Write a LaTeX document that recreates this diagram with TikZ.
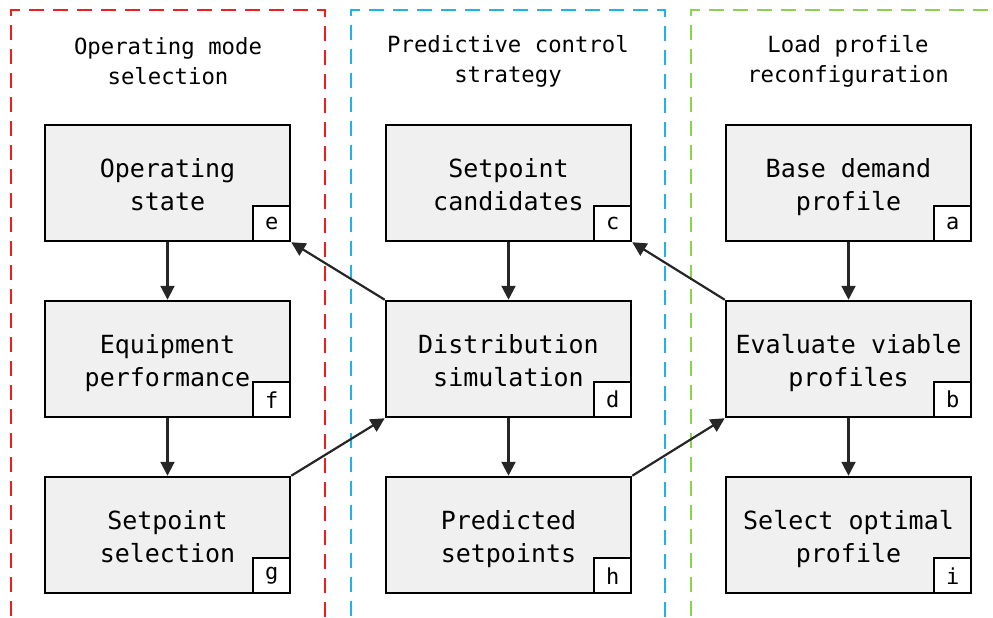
\documentclass[tikz,border=0pt]{standalone}
\usepackage{fontspec}
\setmonofont{DejaVu Sans Mono}
\usetikzlibrary{arrows.meta}
\definecolor{boxfill}{HTML}{F0F0F0}
\definecolor{arrowgray}{HTML}{262626}
\definecolor{laneRed}{HTML}{F01E1E}
\definecolor{laneBlue}{HTML}{1EB4EA}
\definecolor{laneGreen}{HTML}{8CD24B}
\tikzset{
  lane/.style={line width=2pt, dash pattern=on 15pt off 9pt},
  lanetitle/.style={font=\ttfamily\fontsize{22.3}{30}\selectfont, align=center, text=black},
  stepbox/.style={draw=black, line width=2.5pt, fill=boxfill, minimum width=245pt,
    minimum height=116pt, inner sep=0pt, align=center,
    font=\ttfamily\fontsize{25}{33}\selectfont,
    text height=54pt, text depth=0pt},
  tagbox/.style={draw=black, line width=2pt, fill=white, minimum width=37pt,
    minimum height=35pt, inner sep=0pt, font=\ttfamily\fontsize{22}{22}\selectfont,
    anchor=south east},
  flow/.style={draw=arrowgray, line width=2.2pt,
    -{Triangle[length=14pt,width=14pt]}}
}
\begin{document}
\begin{tikzpicture}[x=1pt,y=-1pt]
\useasboundingbox (0,0) rectangle (993,618);
% swim lanes, open at the bottom
\draw[lane, draw=laneRed]   (11,640) -- (11,10) -- (325,10) -- (325,640);
\draw[lane, draw=laneBlue]  (351,640) -- (351,10) -- (665,10) -- (665,640);
\draw[lane, draw=laneGreen] (691,640) -- (691,10) -- (1010,10);
% lane titles
\node[lanetitle] (t1) at (168,61) {Operating mode\\selection};
\node[lanetitle] (t2) at (508,61) {Predictive control\\strategy};
\node[lanetitle] (t3) at (848,61) {Load profile\\reconfiguration};
% process steps
\node[stepbox] (e) at (167.5,183) {Operating\\state};
\node[stepbox] (f) at (167.5,359) {Equipment\\performance};
\node[stepbox] (g) at (167.5,535) {Setpoint\\selection};
\node[stepbox] (c) at (508.5,183) {Setpoint\\candidates};
\node[stepbox] (d) at (508.5,359) {Distribution\\simulation};
\node[stepbox] (h) at (508.5,535) {Predicted\\setpoints};
\node[stepbox] (a) at (848.5,183) {Base demand\\profile};
\node[stepbox] (b) at (848.5,359) {Evaluate viable\\profiles};
\node[stepbox] (i) at (848.5,535) {Select optimal\\profile};
% corner labels
\foreach \n in {a,b,c,d,e,f,g,h,i}
  \node[tagbox] (tag\n) at (\n.south east) {\n};
% vertical flow
\draw[flow] (e) -- (f);
\draw[flow] (f) -- (g);
\draw[flow] (c) -- (d);
\draw[flow] (d) -- (h);
\draw[flow] (a) -- (b);
\draw[flow] (b) -- (i);
% cross-lane flow
\draw[flow] (d.north west) -- (e.south east);
\draw[flow] (b.north west) -- (c.south east);
\draw[flow] (g.north east) -- (d.south west);
\draw[flow] (h.north east) -- (b.south west);
\end{tikzpicture}
\end{document}
